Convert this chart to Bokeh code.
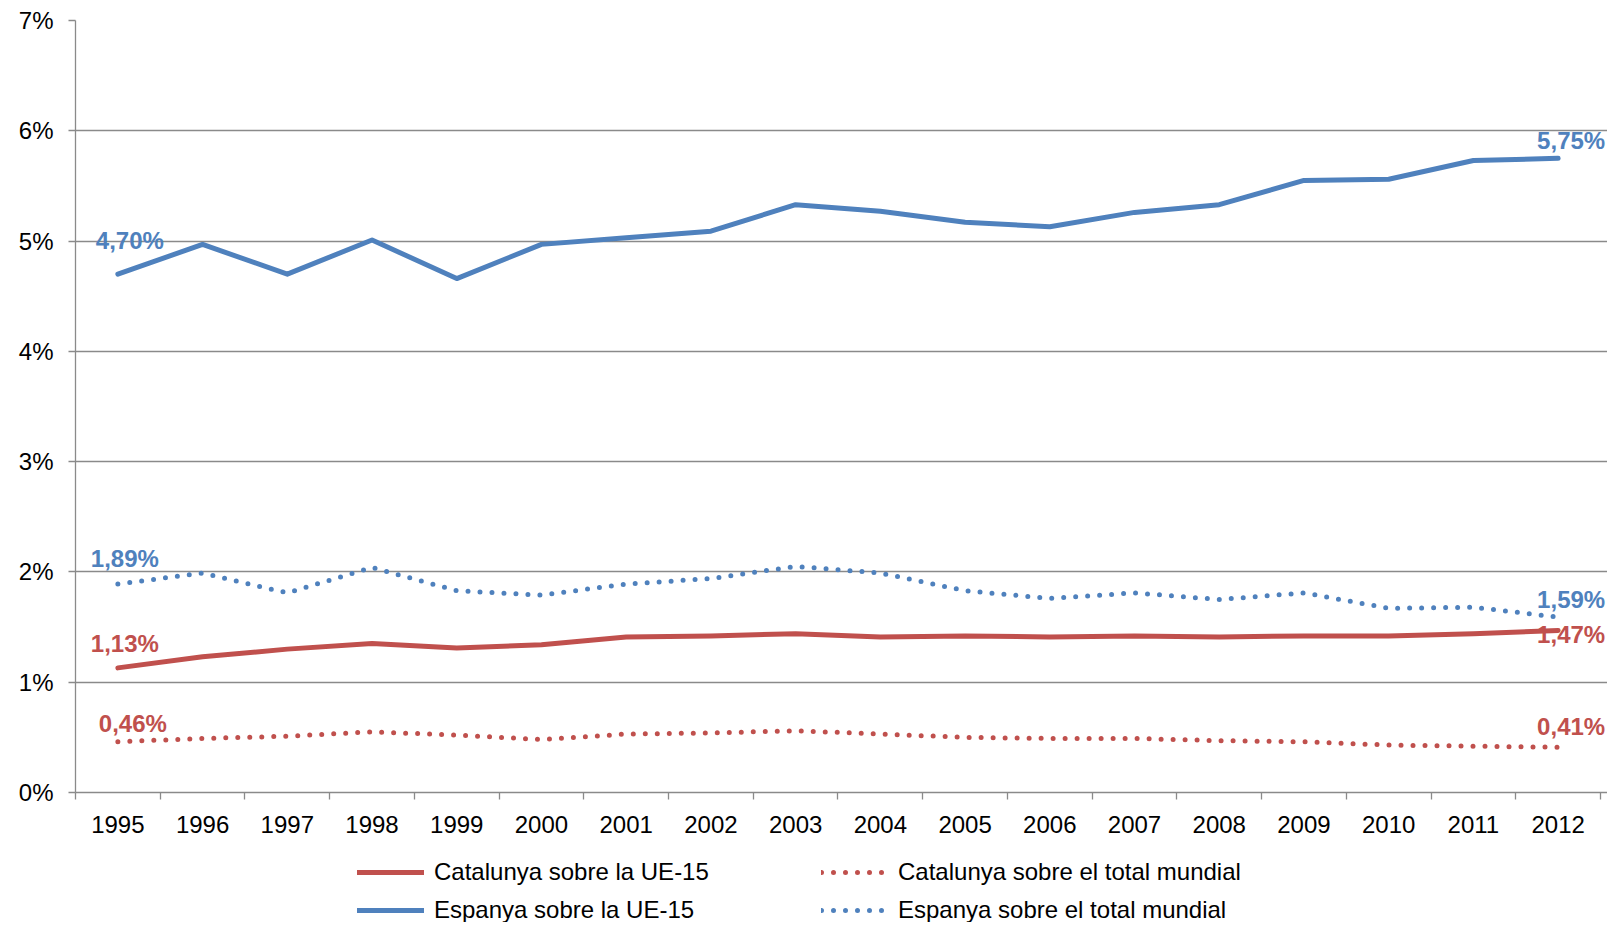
from bokeh.plotting import figure
from bokeh.layouts import column
from bokeh.models import (ColumnDataSource, FixedTicker, Legend, LegendItem, LabelSet, Range1d)
from bokeh.core.properties import value
from bokeh.embed import file_html
from bokeh.resources import INLINE

years = [1995, 1996, 1997, 1998, 1999, 2000, 2001, 2002, 2003, 2004, 2005, 2006,
         2007, 2008, 2009, 2010, 2011, 2012]
cat_ue15 = [1.13, 1.23, 1.30, 1.35, 1.31, 1.34, 1.41, 1.42, 1.44, 1.41, 1.42, 1.41,
            1.42, 1.41, 1.42, 1.42, 1.44, 1.47]
cat_mundial = [0.46, 0.49, 0.51, 0.55, 0.52, 0.48, 0.53, 0.54, 0.56, 0.53, 0.50, 0.49,
               0.49, 0.47, 0.46, 0.43, 0.42, 0.41]
esp_ue15 = [4.70, 4.97, 4.70, 5.01, 4.66, 4.97, 5.03, 5.09, 5.33, 5.27, 5.17, 5.13,
            5.26, 5.33, 5.55, 5.56, 5.73, 5.75]
esp_mundial = [1.89, 1.99, 1.81, 2.04, 1.83, 1.79, 1.89, 1.94, 2.05, 1.99, 1.83, 1.76,
               1.81, 1.75, 1.81, 1.67, 1.68, 1.59]
y_ticks = [0, 1, 2, 3, 4, 5, 6, 7]

series_names = ["Catalunya sobre la UE-15", "Catalunya sobre el total mundial",
                "Espanya sobre la UE-15", "Espanya sobre el total mundial"]

RED = "#C0504D"
BLUE = "#4F81BD"
GRID = "#8a8a8a"
FONT = "Liberation Sans"
FS = "24px"

# frame runs to the canvas edge so that the end labels are not clipped
x_end = years[-1] + 0.5 + 7 / 84.7
p = figure(width=1607, height=842, output_backend="svg", toolbar_location=None,
           x_range=Range1d(years[0] - 0.5, x_end), y_range=Range1d(0, 7),
           min_border_left=75, min_border_right=0, min_border_top=20,
           min_border_bottom=50)
p.outline_line_color = None
p.xgrid.grid_line_color = None
p.ygrid.grid_line_color = GRID
p.ygrid.grid_line_width = 1.3
p.background_fill_color = "white"
p.border_fill_color = "white"

# y axis
p.yaxis.ticker = FixedTicker(ticks=y_ticks)
p.yaxis.major_label_overrides = {t: f"{t}%" for t in y_ticks}
p.yaxis.axis_line_color = GRID
p.yaxis.axis_line_width = 1.3
p.yaxis.major_tick_line_color = GRID
p.yaxis.major_tick_line_width = 1.3
p.yaxis.major_tick_in = 0
p.yaxis.major_tick_out = 7
p.yaxis.minor_tick_line_color = None
p.yaxis.major_label_standoff = 15
p.yaxis.major_label_text_font = FONT
p.yaxis.major_label_text_font_size = FS
p.yaxis.major_label_text_color = "black"

# x axis: labels at category centres, tick marks at boundaries
bounds = [y - 0.5 for y in years] + [years[-1] + 0.5]
p.xaxis.ticker = FixedTicker(ticks=years, minor_ticks=bounds)
p.xaxis.major_label_overrides = {y: str(y) for y in years}
p.xaxis.axis_line_color = GRID
p.xaxis.axis_line_width = 1.3
p.xaxis.major_tick_line_color = None
p.xaxis.major_tick_in = 0
p.xaxis.major_tick_out = 7
p.xaxis.minor_tick_line_color = GRID
p.xaxis.minor_tick_line_width = 1.3
p.xaxis.minor_tick_in = 0
p.xaxis.minor_tick_out = 7
p.xaxis.major_label_standoff = 16
p.xaxis.major_label_text_font = FONT
p.xaxis.major_label_text_font_size = FS
p.xaxis.major_label_text_color = "black"

src = ColumnDataSource(dict(x=years, cu=cat_ue15, cm=cat_mundial, eu=esp_ue15, em=esp_mundial))

styles = [dict(line_color=RED, line_width=5, line_cap="round", line_join="round"),
          dict(line_color=RED, line_width=5, line_cap="round", line_dash="0 12"),
          dict(line_color=BLUE, line_width=5, line_cap="round", line_join="round"),
          dict(line_color=BLUE, line_width=5, line_cap="round", line_dash="0 12")]
cols = ["cu", "cm", "eu", "em"]
for col, st in zip(cols, styles):
    p.line("x", col, source=src, **st)

# data labels at first and last points
lab_x = [years[0], years[0], years[0], years[0], years[-1], years[-1], years[-1], years[-1]]
lab_y = [esp_ue15[0], esp_mundial[0], cat_ue15[0], cat_mundial[0],
         esp_ue15[-1], esp_mundial[-1], cat_ue15[-1], cat_mundial[-1]]
lab_txt = [f"{v:.2f}%".replace(".", ",") for v in lab_y]
lab_col = [BLUE, BLUE, RED, RED, BLUE, BLUE, RED, RED]
lab_dx = [12, 7, 7, 15, 13, 13, 13, 13]
lab_dy = [34, 26, 24, 18, 18, 18, -4, 21]
lsrc = ColumnDataSource(dict(x=lab_x, y=lab_y, t=lab_txt, c=lab_col, dx=lab_dx, dy=lab_dy))
labels = LabelSet(x="x", y="y", text="t", source=lsrc, x_offset="dx", y_offset="dy",
                  text_color="c", text_font=value(FONT), text_font_size=value(FS),
                  text_font_style="bold", text_align="center", text_baseline="middle")
p.add_layout(labels)

# legend in a separate strip below the chart (series drawn out of its view range)
lf = figure(width=1607, height=80, output_backend="svg", toolbar_location=None,
            x_axis_location=None, y_axis_location=None,
            x_range=Range1d(years[0], years[-1]), y_range=Range1d(100, 101),
            min_border_left=0, min_border_right=0, min_border_top=0, min_border_bottom=0)
lf.outline_line_color = None
lf.grid.grid_line_color = None
lrs = [lf.line("x", col, source=src, **st) for col, st in zip(cols, styles)]

order = [0, 2, 1, 3]  # column-major fill: left column UE-15, right column mundial
legend = Legend(items=[LegendItem(label=series_names[i], renderers=[lrs[i]]) for i in order],
                ncols=2, location=(282, -6))
legend.border_line_color = None
legend.background_fill_alpha = 0
legend.padding = 0
legend.margin = 0
legend.spacing = 2
legend.glyph_width = 67
legend.glyph_height = 36
legend.label_height = 36
legend.label_width = 385
legend.label_standoff = 10
legend.label_text_font = FONT
legend.label_text_font_size = FS
legend.label_text_color = "black"
lf.add_layout(legend, "center")

open("out.html", "w").write(file_html(column(p, lf, spacing=0), INLINE))
